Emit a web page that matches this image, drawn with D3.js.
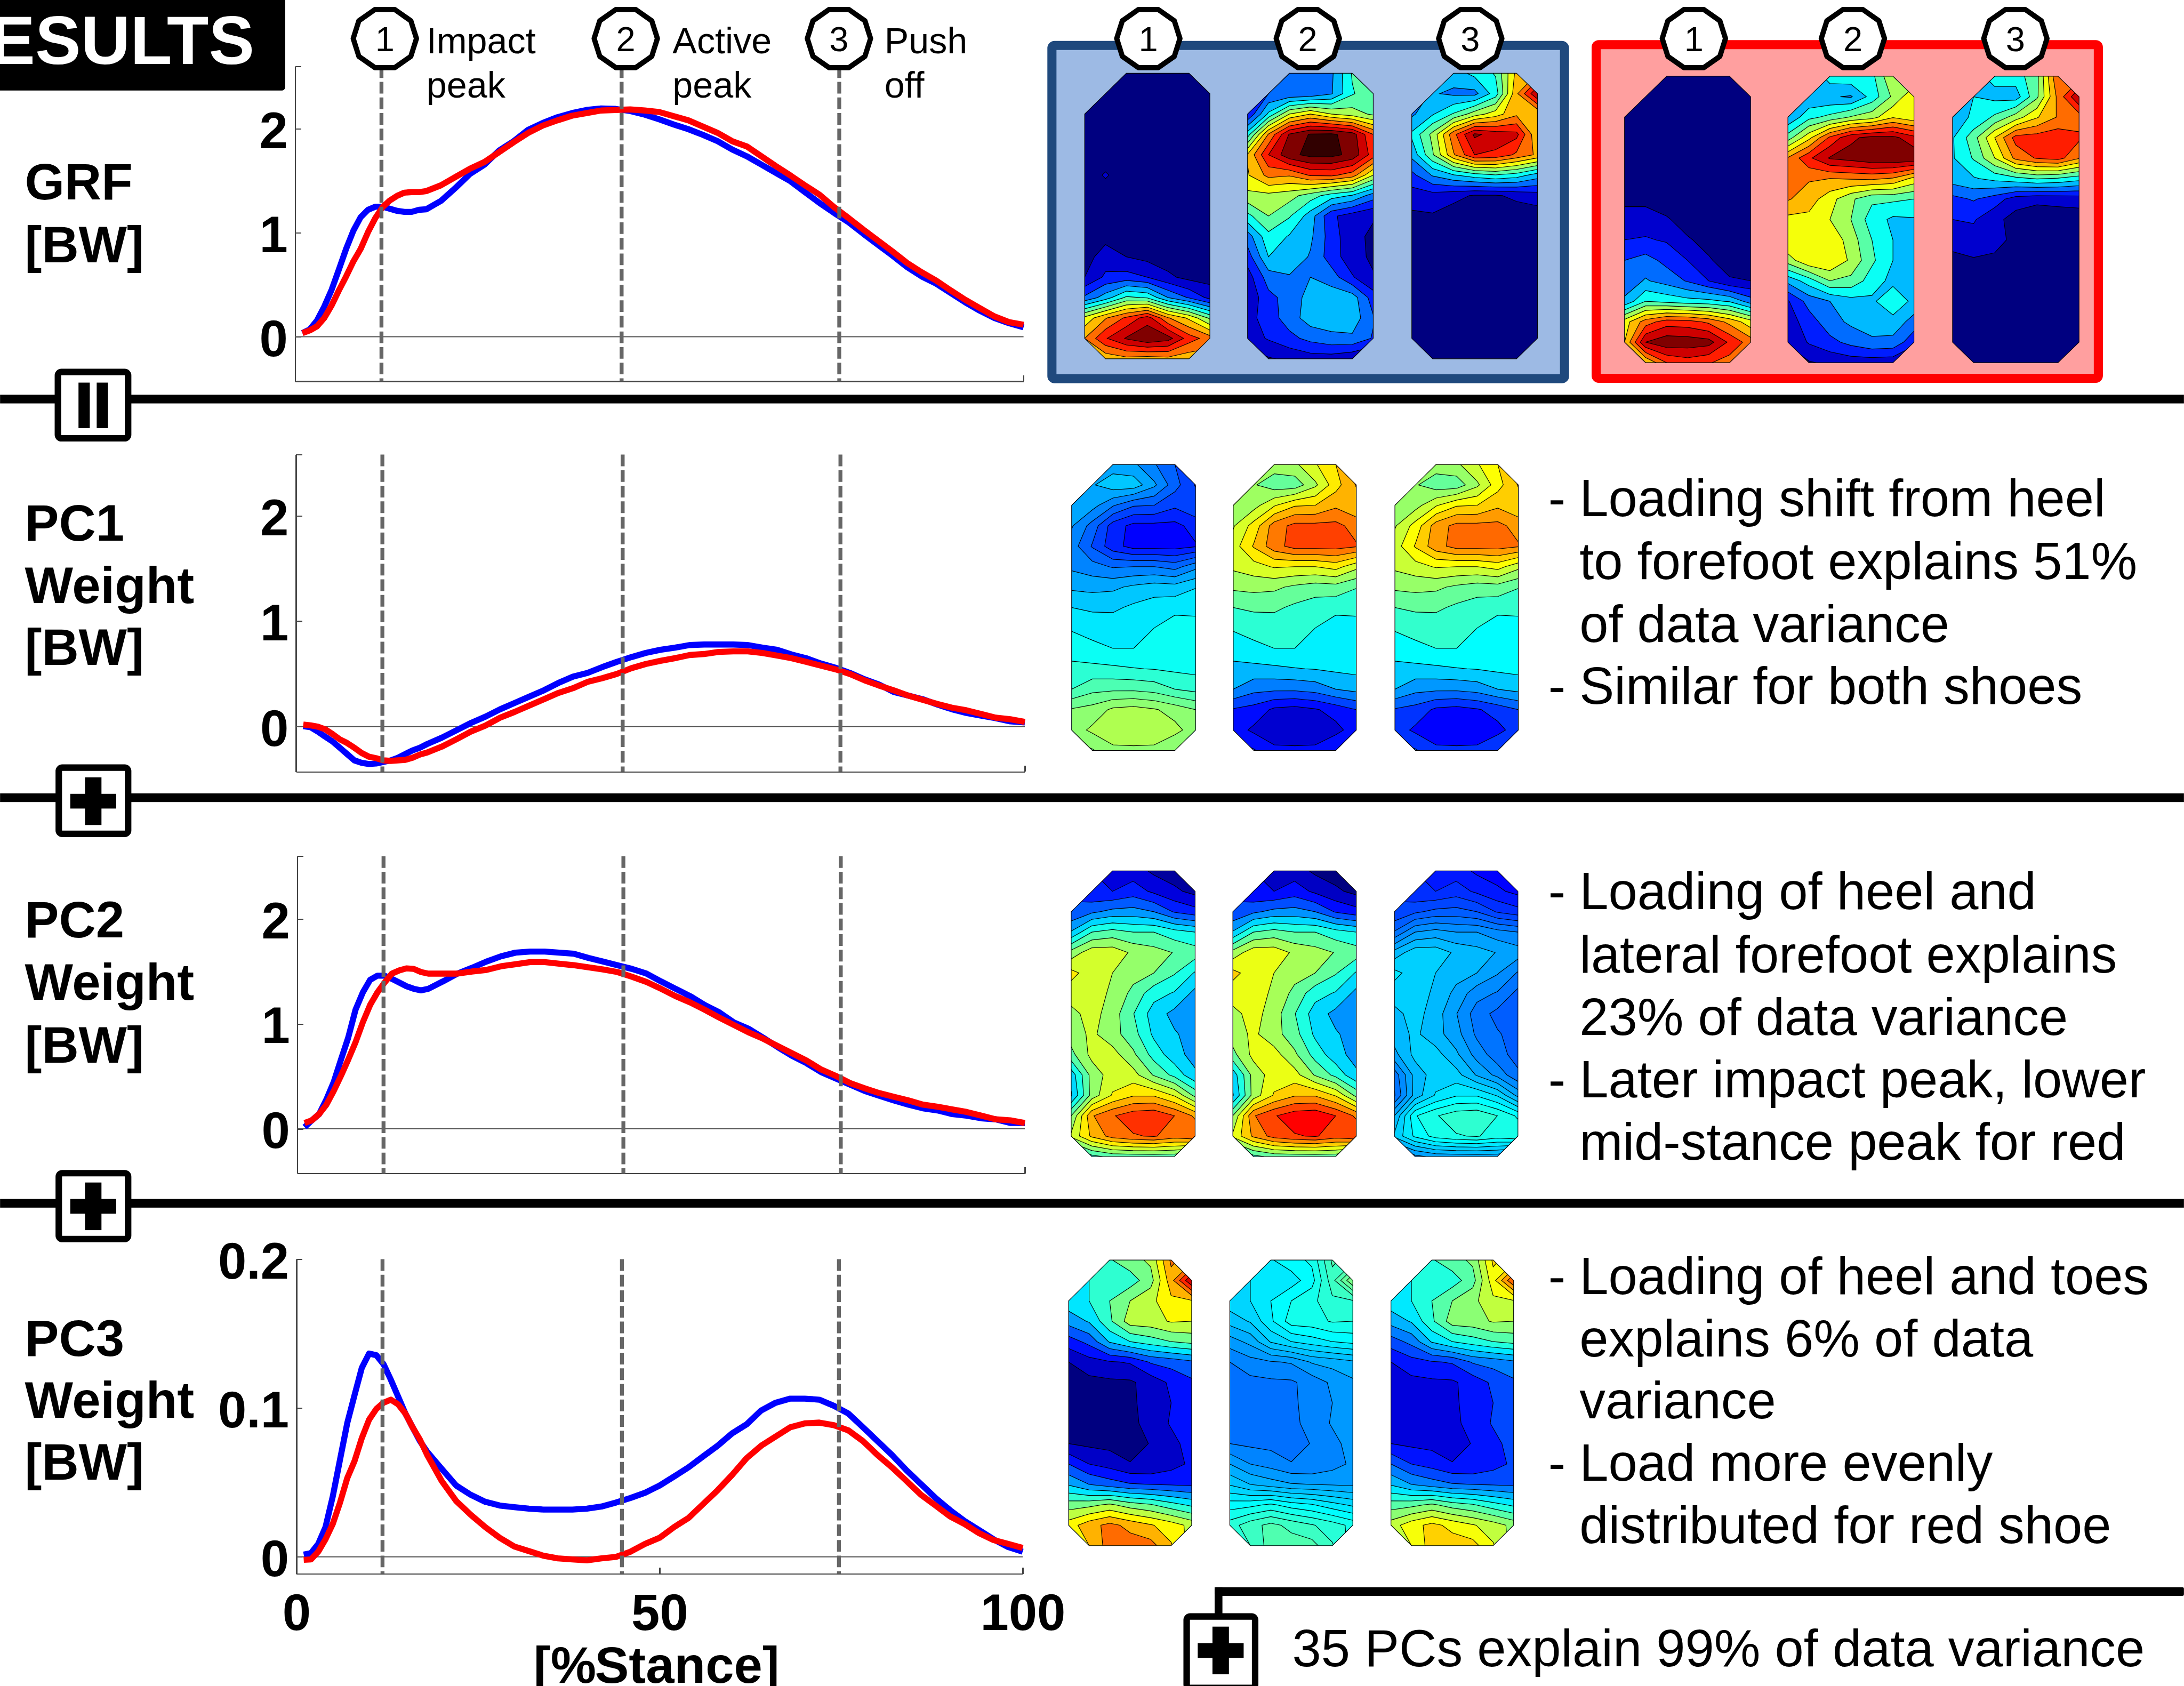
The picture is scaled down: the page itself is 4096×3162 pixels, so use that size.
<!DOCTYPE html>
<html>
<head>
<meta charset="utf-8">
<script src="https://cdn.jsdelivr.net/npm/d3@7"></script>
<style>
  html, body { margin: 0; padding: 0; background: #fff; }
  svg { display: block; font-family: "Liberation Sans", Arial, sans-serif; }
  .axis path, .axis line { stroke: #444; stroke-width: 3; shape-rendering: crispEdges; }
  .axis text { font-size: 118px; font-weight: bold; fill: #000; font-family: "Liberation Sans", Arial, sans-serif; }
</style>
</head>
<body>
<script>
// Curve values
var stance = [1,2,3,4,5,6,7,8,9,10,11,12,13,14,15,16,17,18,20,22,24,26,28,30,32,34,36,38,40,42,44,46,48,50,52,54,56,58,60,62,64,66,68,70,72,74,76,78,80,82,84,86,88,90,92,94,96,98,100];

var grfBlue = [.035,.07,.155,.29,.45,.645,.845,1.02,1.15,1.22,1.25,1.25,1.23,1.21,1.2,1.2,1.22,1.225,1.305,1.43,1.565,1.655,1.79,1.88,1.99,2.055,2.11,2.15,2.18,2.195,2.19,2.17,2.135,2.09,2.04,1.995,1.94,1.88,1.8,1.735,1.655,1.575,1.495,1.39,1.285,1.19,1.1,.99,.885,.78,.67,.58,.51,.42,.33,.25,.18,.13,.09];
var grfRed = [.035,.06,.1,.18,.3,.445,.58,.725,.845,1.005,1.14,1.245,1.31,1.355,1.385,1.39,1.39,1.4,1.455,1.535,1.615,1.68,1.775,1.87,1.96,2.03,2.08,2.125,2.15,2.175,2.18,2.185,2.175,2.16,2.12,2.08,2.02,1.96,1.88,1.83,1.735,1.64,1.55,1.455,1.365,1.245,1.14,1.03,.925,.82,.71,.62,.54,.445,.355,.275,.195,.14,.115];
var pc1Blue = [.005,-.005,-.047,-.095,-.14,-.2,-.26,-.32,-.343,-.355,-.35,-.335,-.32,-.295,-.26,-.225,-.2,-.165,-.105,-.035,.035,.095,.165,.225,.285,.345,.415,.475,.51,.565,.615,.66,.7,.73,.75,.775,.78,.78,.78,.775,.75,.73,.685,.65,.6,.56,.51,.45,.4,.33,.295,.26,.21,.165,.13,.105,.08,.05,.04];
var pc1Red = [.02,.012,0,-.025,-.07,-.12,-.155,-.2,-.25,-.285,-.3,-.32,-.325,-.32,-.315,-.295,-.265,-.245,-.19,-.12,-.047,.01,.085,.14,.2,.26,.32,.365,.425,.46,.5,.555,.595,.625,.65,.68,.69,.71,.715,.715,.7,.675,.65,.615,.58,.545,.5,.44,.39,.345,.295,.255,.215,.18,.155,.12,.085,.07,.045];
var pc2Blue = [.015,.08,.14,.28,.445,.66,.87,1.135,1.3,1.42,1.46,1.46,1.43,1.395,1.36,1.335,1.32,1.335,1.405,1.48,1.535,1.595,1.645,1.68,1.69,1.69,1.68,1.67,1.63,1.595,1.56,1.525,1.48,1.405,1.335,1.265,1.18,1.11,1.015,.955,.87,.78,.695,.625,.54,.48,.42,.36,.315,.27,.23,.195,.175,.14,.125,.1,.09,.055,.055];
var pc2Red = [.055,.08,.14,.23,.36,.505,.66,.825,1.015,1.18,1.3,1.395,1.48,1.51,1.53,1.525,1.495,1.48,1.48,1.48,1.5,1.515,1.55,1.57,1.59,1.59,1.575,1.56,1.54,1.52,1.495,1.45,1.4,1.335,1.265,1.205,1.135,1.06,.99,.92,.86,.79,.72,.65,.565,.505,.435,.385,.34,.305,.27,.23,.21,.185,.16,.125,.09,.08,.055];
var pc3Blue = [.0015,.0025,.0087,.02,.0406,.0654,.09,.1087,.127,.1366,.1355,.1294,.119,.1077,.0963,.087,.0778,.0706,.0592,.0479,.0417,.037,.0345,.0334,.0324,.0318,.0318,.0318,.0324,.0338,.0365,.0396,.0431,.0479,.054,.0602,.0675,.0747,.083,.0891,.0984,.1036,.1063,.1063,.1056,.1015,.0963,.0871,.0778,.0685,.0582,.0489,.0396,.0314,.0241,.018,.0118,.0066,.0035];
var pc3Red = [-.002,-.0017,.0035,.0118,.0221,.0365,.053,.0644,.0798,.0922,.0994,.1036,.1056,.1025,.0963,.087,.0788,.0685,.051,.0375,.0283,.02,.0128,.007,.0039,.0008,-.001,-.0017,-.0023,-.001,0,.0035,.0087,.0128,.02,.0262,.0355,.0448,.0551,.0664,.0747,.0809,.0871,.0897,.0902,.0885,.085,.0778,.0685,.0602,.051,.0417,.0345,.0272,.0221,.0159,.0113,.0087,.006];

var eventStance = [11.85, 44.82, 74.7];
var eventNumbers = ['1', '2', '3'];
var rowLabels = [['GRF', '[BW]'], ['PC1', 'Weight', '[BW]'], ['PC2', 'Weight', '[BW]'], ['PC3', 'Weight', '[BW]']];
var yTicks = [[0, 1, 2], [0, 1, 2], [0, 1, 2], [0, 0.1, 0.2]];
var xTickLabels = [0, 50, 100];

// Pressure maps: contour band of each sensor, 7 columns by 15 rows
var footBlue1 = [
  [0,0,0,0,0,0,0],[0,0,0,0,0,0,0],[0,0,0,0,0,0,0],[0,0,0,0,0,0,0],[0,0,0,0,0,0,0],
  [0,.6,0,0,0,0,0],[0,0,0,0,0,0,0],[0,0,0,0,0,0,0],[0,.2,0,0,0,0,0],
  [.1,.95,.5,.2,0,0,0],[.5,1.7,1.9,1.5,.7,.2,.1],[2.7,4,5.7,5.4,3.5,2.4,1.2],
  [7.8,9.4,10.7,12,9.6,8.3,6.3],[9.5,11.4,12.6,13.4,12.9,11,10],[9,8.8,9.2,9,9.2,8.8,9]];
var footBlue2 = [
  [2,1.5,2.5,3,3.3,5.6,5.5],[1.5,2.5,2.6,2.7,3.4,5.4,6.2],[1.5,4.7,7.5,8.5,7.5,7,6.3],
  [5,9.6,12.6,13.6,13.7,13,10.5],[8.6,11.5,13.2,13.8,13.8,13.2,11],[8.4,9.8,9.6,10.6,10.7,10,7.5],
  [7.2,7.2,6.9,6,5,4.4,3],[5.2,6.5,5.6,4,1.7,1,.6],[3,5.2,4.4,3.7,2,.8,.3],
  [2,4.5,4.2,3.4,2,.9,.3],[1,3,3.4,3.5,3,1.6,.6],[.7,2.2,2.9,3.9,4.1,4,2],
  [1.1,2,3,4,4.1,4.1,2.6],[1,1.6,2.2,2.8,3.2,3.3,2.4],[0,.4,.7,1,1,.6,.2]];
var footBlue3 = [
  [3.5,3.5,4,4.8,5.6,8.8,9.5],[3,3.6,3.3,3.2,5,9.3,12.5],[3.3,4.4,5.6,7,8,9.3,8.6],
  [4.7,6.8,10.2,12.7,12.1,11.8,8.6],[3.8,6.4,9.4,11.5,11.3,10.3,9.3],[2.2,3.6,4.4,5,5.4,5,4],
  [1,1.1,.8,.4,.4,.7,1],[.3,.4,0,0,0,0,0],[0,0,0,0,0,0,0],[0,0,0,0,0,0,0],[0,0,0,0,0,0,0],
  [0,0,0,0,0,0,0],[0,0,0,0,0,0,0],[0,0,0,0,0,0,0],[0,0,0,0,0,0,0]];
var footRed1 = [
  [0,0,0,0,0,0,0],[0,0,0,0,0,0,0],[0,0,0,0,0,0,0],[0,0,0,0,0,0,0],[0,0,0,0,0,0,0],[0,0,0,0,0,0,0],
  [.2,.2,0,0,0,0,0],[1,1,.6,.1,0,0,0],[1.5,1.6,1.4,.6,.2,0,0],[2.5,2.9,2.2,1.5,.6,.1,0],
  [2.9,3.6,3.1,2.4,1.5,.6,.5],[3.7,5.5,5.2,4.9,4.8,4.4,3],[8,10,11,10.9,10.3,9.2,7.9],
  [8.5,12.5,13.2,13.1,12.9,11.3,10],[8,8.5,10.5,11,10.6,10,8.8]];
var footRed2 = [
  [3,3.5,5,5.2,5.2,7.5,6.5],[3.5,3.6,3.6,3.4,4.9,6.7,8.4],[3.6,5.2,5.8,6.6,7.1,8.4,7.8],
  [6,8.2,10.7,12.3,12.8,12.8,11.8],[9.6,11.3,12.6,12.9,13.3,13.4,13.3],[10,9.6,9.5,9.6,9.7,9.4,8.2],
  [9.6,9,7.9,6.7,5.7,5.7,5.5],[8.2,8.2,7.5,6.5,5,4.3,4.4],[8.5,8.4,8.3,7,5.5,4.5,4.3],
  [7,8.4,8.5,7.3,5.7,4.5,4.3],[3.8,5,6.5,6.2,5,4.2,4.1],[1.4,2.9,3.5,4.1,4.3,5.3,4.2],
  [1,2,3.1,3.7,4,4.1,3.1],[.6,1.6,2.2,2.8,3.3,3.2,1.8],[0,.4,.7,.9,.9,.8,.2]];
var footRed3 = [
  [4,4.2,4.8,5,6.2,10.5,10],[4,4.5,4.2,4,6.3,9.8,12.5],[4.2,4.6,5.7,7,8.4,9.6,10],
  [4.4,6.1,8.5,10.9,11,11.2,10.7],[4.4,5.6,7.5,9.8,10.6,10.9,9.6],[4,4.4,4.8,5.2,5.6,5.4,4.9],
  [2.2,2.6,2,1,.7,.8,.9],[1.5,1.6,.8,.1,0,0,0],[.9,1.1,1,.1,0,0,0],[.2,.4,.2,0,0,0,0],
  [0,0,0,0,0,0,0],[0,0,0,0,0,0,0],[0,0,0,0,0,0,0],[0,0,0,0,0,0,0],[0,0,0,0,0,0,0]];
var footPc1 = [
  [5,5,5,4.7,3.6,2.5,1.8],[5,5.4,6.1,6.1,4.7,2.9,1.4],[5.5,4.9,3.6,2.6,2.5,1.7,2.3],
  [4.6,3.1,1,.2,.2,.2,.9],[4,2.4,.9,.1,.1,.1,.4],[4.3,3.9,3.4,3.5,3.5,3.1,4.2],
  [5.3,5.2,5.3,5.7,6,5.9,6.45],[6.5,6.3,6.3,6.7,7,7.2,7.2],[7.4,7.2,7.1,7.2,7.5,8,7.9],
  [8,7.7,7.5,7.5,8,8.3,8.3],[8.8,8.8,8.7,8.55,8.45,8.3,8.2],[9.5,10.2,10.3,10.3,10.1,9.5,9.2],
  [11.6,11.9,12.7,12.9,12.6,12.1,11.5],[12,12.7,13.3,13.5,13.3,12.8,12],[11,11.4,12.2,12.2,12.2,11.5,11.2]];
var footPc2 = [
  [2.2,1.5,1.3,1,.3,0,0],[2.4,1.6,1.5,2,1.3,.7,.2],[2.6,3.3,3.8,3.9,3.5,2.4,1.9],
  [4.6,6.5,6.9,6.5,6.5,5.9,5.5],[7.9,9.1,9.1,8.3,7.9,7.45,7],[9.8,9,8.5,7.9,7.5,6.6,5.4],
  [9,9,8.3,7.2,5.9,5.4,4.2],[8.2,8.9,8,6.55,5,4.2,4],[8,8.7,7.9,6.9,5.3,4.6,4.1],
  [7.2,8.8,8.9,7.7,6.1,4.9,4.1],[4.9,7.9,9,8.9,7.4,6.2,4.7],[4.4,7.9,9.6,10.4,10.4,9.4,7.2],
  [7.5,11.4,12.4,13.1,13.3,12.5,11.3],[8.7,10.7,11.9,12.4,12.6,12,12.4],[5,6.2,6.8,6.9,6.9,6.9,6]];
var footPc3 = [
  [5,5,6.4,7.1,7.7,10.7,10],[5,5.5,6,6,7.1,10.1,13.5],[5.1,5.5,6.5,7.5,8.2,9.3,9.4],
  [3.9,4.6,6.3,8,8.1,8.6,8.5],[2,2.8,4.6,5.5,6,6.5,6.8],[.5,1.1,1.4,1.6,2.6,2.9,3.3],
  [0,.2,.3,.35,.9,1.7,2.3],[0,0,0,.3,.9,1.5,2],[0,0,0,.2,.9,1.6,2],[.5,.3,.2,.1,.55,1.2,1.9],
  [2.5,1.5,1.1,.55,.55,1.1,1.7],[4.4,3.5,3,2.6,2.5,2.4,2.3],[7,7.2,7.7,7,6.6,5.9,5.3],
  [9,10.1,10.8,10.2,9.6,9,8.2],[8,9.5,11,11,10.9,9.6,8]];

// Which part of the jet map each plot's bands 0..13 run through
var jetFull = [0, 1];
var jetPc1 = [[.125, .547], [.8125, .079], [.7725, .125]];
var jetPc2 = [[.03, .8275], [0, .875], [.125, .42]];
var jetPc3 = [[0, .91], [.235, .492], [.09, .775]];

var noteLines1 = ['Loading shift from heel', 'to forefoot explains 51%', 'of data variance', 'Similar for both shoes'];
var noteLines2 = ['Loading of heel and', 'lateral forefoot explains', '23% of data variance', 'Later impact peak, lower', 'mid-stance peak for red'];
var noteLines3 = ['Loading of heel and toes', 'explains 6% of data', 'variance', 'Load more evenly', 'distributed for red shoe'];

// Page layout, in pixels of the full size figure
var W = 5040, H = 3891, FONT_BIG = 118, FONT_NOTE = 120;
var panels = [
  {left: 681, right: 2362, top: 153, bottom: 880, y: [-.429, 2.6], blue: grfBlue, red: grfRed, labelY: 460, labelStep: 145},
  {left: 683, right: 2365, top: 1049, bottom: 1781, y: [-.428, 2.584], blue: pc1Blue, red: pc1Red, labelY: 1248, labelStep: 143.5},
  {left: 686, right: 2365, top: 1976, bottom: 2708, y: [-.426, 2.6], blue: pc2Blue, red: pc2Red, labelY: 2163, labelStep: 144.5},
  {left: 684, right: 2360, top: 2906, bottom: 3632, y: [-.01135, .2], blue: pc3Blue, red: pc3Red, labelY: 3129, labelStep: 143}
];
var feet = [
  {x: [2503, 2792], y: [169, 828], grid: footBlue1, jet: jetFull},
  {x: [2879, 3169], y: [169, 828], grid: footBlue2, jet: jetFull},
  {x: [3258, 3548], y: [169, 828], grid: footBlue3, jet: jetFull},
  {x: [3749, 4040], y: [176, 837], grid: footRed1, jet: jetFull},
  {x: [4126, 4417], y: [176, 837], grid: footRed2, jet: jetFull},
  {x: [4506, 4798], y: [176, 837], grid: footRed3, jet: jetFull},
  {x: [2473, 2759], y: [1072, 1732], grid: footPc1, jet: jetPc1[0]},
  {x: [2846, 3130], y: [1072, 1732], grid: footPc1, jet: jetPc1[1]},
  {x: [3219, 3504], y: [1072, 1732], grid: footPc1, jet: jetPc1[2]},
  {x: [2472, 2758], y: [2010, 2669], grid: footPc2, jet: jetPc2[0]},
  {x: [2845, 3130], y: [2010, 2669], grid: footPc2, jet: jetPc2[1]},
  {x: [3218, 3503], y: [2010, 2669], grid: footPc2, jet: jetPc2[2]},
  {x: [2466, 2750], y: [2908, 3567], grid: footPc3, jet: jetPc3[0]},
  {x: [2838, 3122], y: [2908, 3567], grid: footPc3, jet: jetPc3[1]},
  {x: [3210, 3493], y: [2908, 3567], grid: footPc3, jet: jetPc3[2]}
];
var marker = [[-23,-67],[23,-67],[60,-41],[73,0],[60,41],[23,67],[-23,67],[-60,41],[-73,0],[-60,-41]];
var footMask = [[0,2],[1,1],[2,0],[5,0],[6,1],[6,13],[5,14],[1,14],[0,13]];

var svg = d3.select('body').append('svg')
  .attr('width', 4096)
  .attr('height', 3162)
  .attr('viewBox', '0 0 ' + W + ' ' + H);

svg.append('rect').attr('width', W).attr('height', H).attr('fill', '#fff');

function jet(t) {
  function c(v) { return Math.round(255 * Math.max(0, Math.min(1, v))); }
  return d3.rgb(
    c(Math.min(4 * t - 1.5, -4 * t + 4.5)),
    c(Math.min(4 * t - 0.5, -4 * t + 3.5)),
    c(Math.min(4 * t + 0.5, -4 * t + 2.5))
  ).formatHex();
}

function addText(x, y, str, size, weight, anchor, fill) {
  return svg.append('text')
    .attr('x', x).attr('y', y)
    .attr('font-size', size)
    .attr('font-weight', weight || 'normal')
    .attr('text-anchor', anchor || 'start')
    .attr('fill', fill || '#000')
    .text(str);
}

// Header block, clipped by the left edge of the page
svg.append('rect').attr('x', -20).attr('y', -20).attr('width', 678).attr('height', 229).attr('rx', 8).attr('fill', '#000');
addText(587, 148, 'ESULTS', 158, 'bold', 'end', '#fff');

// Separators
[[911, 20], [1831, 20], [2767, 20]].forEach(function (b) {
  svg.append('rect').attr('x', 0).attr('y', b[0]).attr('width', W).attr('height', b[1]).attr('fill', '#000');
});
svg.append('rect').attr('x', 2803).attr('y', 3663).attr('width', W - 2803).attr('height', 20).attr('rx', 4).attr('fill', '#000');
svg.append('rect').attr('x', 2803).attr('y', 3663).attr('width', 18).attr('height', 70).attr('fill', '#000');

function iconBox(x, y, w, h) {
  svg.append('rect').attr('x', x + 6.5).attr('y', y + 7.5).attr('width', w - 13).attr('height', h - 15).attr('rx', 8)
    .attr('fill', '#fff').attr('stroke', '#000').attr('stroke-width', 15);
}
function plusIcon(cx, cy) {
  svg.append('rect').attr('x', cx - 19).attr('y', cy - 55).attr('width', 38).attr('height', 110).attr('fill', '#000');
  svg.append('rect').attr('x', cx - 53).attr('y', cy - 17).attr('width', 106).attr('height', 34).attr('fill', '#000');
}
iconBox(127, 851, 175, 168);
svg.append('rect').attr('x', 181).attr('y', 883).attr('width', 26).attr('height', 105).attr('fill', '#000');
svg.append('rect').attr('x', 223).attr('y', 883).attr('width', 26).attr('height', 105).attr('fill', '#000');
iconBox(129, 1764, 173, 168);
plusIcon(215, 1849);
iconBox(129, 2700, 173, 167);
plusIcon(215, 2784);
iconBox(2732, 3723, 171, 180);
plusIcon(2817, 3809);

// Curve panels
panels.forEach(function (p, i) {
  var x = d3.scaleLinear().domain([0, 100]).range([p.left, p.right]),
      y = d3.scaleLinear().domain(p.y).range([p.bottom, p.top]),
      line = d3.line()
        .x(function (d) { return x(d[0]); })
        .y(function (d) { return y(d[1]); }),
      isLast = i === panels.length - 1;

  // left axis, with an unlabelled tick at the top end
  var ticks = yTicks[i].slice();
  if (ticks.indexOf(p.y[1]) < 0) { ticks.push(p.y[1]); }
  svg.append('g')
    .attr('class', 'axis')
    .attr('transform', 'translate(' + p.left + ',0)')
    .call(d3.axisLeft(y)
      .tickValues(ticks)
      .tickSizeInner(-14)
      .tickSizeOuter(0)
      .tickPadding(17)
      .tickFormat(function (d) { return yTicks[i].indexOf(d) < 0 ? '' : d3.format('')(d); }))
    .selectAll('text')
      .attr('dy', 44);

  // bottom axis
  svg.append('g')
    .attr('class', 'axis')
    .attr('transform', 'translate(0,' + p.bottom + ')')
    .call(d3.axisBottom(x)
      .tickValues(isLast ? xTickLabels : [100])
      .tickSizeInner(-14)
      .tickSizeOuter(0)
      .tickPadding(46)
      .tickFormat(function (d) { return isLast ? d : ''; }));

  // zero line
  svg.append('line')
    .attr('x1', p.left).attr('x2', p.right)
    .attr('y1', y(0)).attr('y2', y(0))
    .attr('stroke', '#555').attr('stroke-width', 2.5);

  svg.append('path')
    .datum(d3.zip(stance, p.blue))
    .attr('d', line)
    .attr('fill', 'none').attr('stroke', '#0000ff').attr('stroke-width', 14).attr('stroke-linejoin', 'round');
  svg.append('path')
    .datum(d3.zip(stance, p.red))
    .attr('d', line)
    .attr('fill', 'none').attr('stroke', '#ff0000').attr('stroke-width', 14).attr('stroke-linejoin', 'round');

  // event lines
  svg.selectAll(null)
    .data(eventStance)
    .enter().append('line')
      .attr('x1', function (d) { return x(d); })
      .attr('x2', function (d) { return x(d); })
      .attr('y1', p.top)
      .attr('y2', p.bottom)
      .attr('stroke', '#666')
      .attr('stroke-width', 9)
      .attr('stroke-dasharray', '27,9');

  rowLabels[i].forEach(function (s, k) {
    addText(57, p.labelY + k * p.labelStep, s, FONT_BIG, 'bold');
  });
});

addText(1515, 3884, '[% Stance]', FONT_BIG, 'bold', 'middle').attr('word-spacing', -36);

// Event markers
function drawMarker(cx, label) {
  svg.append('path')
    .datum(marker)
    .attr('transform', 'translate(' + cx + ',89)')
    .attr('d', d3.line().curve(d3.curveLinearClosed))
    .attr('fill', '#fff').attr('stroke', '#000').attr('stroke-width', 12).attr('stroke-linejoin', 'round');
  addText(cx, 118, label, 80, 'normal', 'middle');
}

addText(984, 123, 'Impact', 84);
addText(984, 225, 'peak', 84);
addText(1552, 123, 'Active', 84);
addText(1552, 225, 'peak', 84);
addText(2041, 123, 'Push', 84);
addText(2041, 225, 'off', 84);

// Shoe frames
svg.append('rect').attr('x', 2427.5).attr('y', 105).attr('width', 1183).attr('height', 769).attr('rx', 6)
  .attr('fill', '#9dbae4').attr('stroke', '#1f497d').attr('stroke-width', 21);
svg.append('rect').attr('x', 3683.5).attr('y', 103).attr('width', 1159).attr('height', 770).attr('rx', 6)
  .attr('fill', '#ff9f9f').attr('stroke', '#ff0000').attr('stroke-width', 21);

[888, 1444, 1936, 2650, 3018, 3393, 3909, 4276, 4651].forEach(function (cx, i) {
  drawMarker(cx, eventNumbers[i % 3]);
});

// Pressure maps
var bandEdges = d3.range(0.5, 14, 1);

feet.forEach(function (f, i) {
  var xs = d3.scaleLinear().domain([0.5, 6.5]).range(f.x),
      ys = d3.scaleLinear().domain([0.5, 14.5]).range(f.y),
      tOfBand = d3.scaleLinear().domain([0, 13]).range(f.jet),
      path = d3.geoPath(d3.geoTransform({
        point: function (px, py) { this.stream.point(xs(px), ys(py)); }
      })),
      outline = footMask.map(function (m) { return [xs(m[0] + 0.5), ys(m[1] + 0.5)]; }),
      contours = d3.contours()
        .size([7, 15])
        .thresholds([-1].concat(bandEdges))(d3.merge(f.grid)),
      id = 'foot' + i;

  svg.append('clipPath').attr('id', id)
    .append('path').attr('d', d3.line().curve(d3.curveLinearClosed)(outline));

  svg.append('g')
    .attr('clip-path', 'url(#' + id + ')')
    .selectAll('path')
    .data(contours)
    .enter().append('path')
      .attr('d', path)
      .attr('fill', function (d) { return jet(tOfBand(d.value < 0 ? 0 : d.value + 0.5)); })
      .attr('stroke', function (d) { return d.value < 0 ? 'none' : '#000'; })
      .attr('stroke-width', 1.4);

  svg.append('path')
    .attr('d', d3.line().curve(d3.curveLinearClosed)(outline))
    .attr('fill', 'none').attr('stroke', '#000').attr('stroke-width', 1.4);
});

// Notes at the right
function notes(lines, baselines, starts) {
  lines.forEach(function (s, i) {
    if (starts.indexOf(i) >= 0) { addText(3573, baselines[i], '-', FONT_NOTE); }
    addText(3645, baselines[i], s, FONT_NOTE);
  });
}
notes(noteLines1, [1191, 1336, 1482, 1624], [0, 3]);
notes(noteLines2, [2098, 2244, 2389, 2532, 2676], [0, 3]);
notes(noteLines3, [2986, 3130, 3273, 3417, 3561], [0, 3]);

addText(2982, 3846, '35 PCs explain 99% of data variance', FONT_NOTE);
</script>
</body>
</html>
